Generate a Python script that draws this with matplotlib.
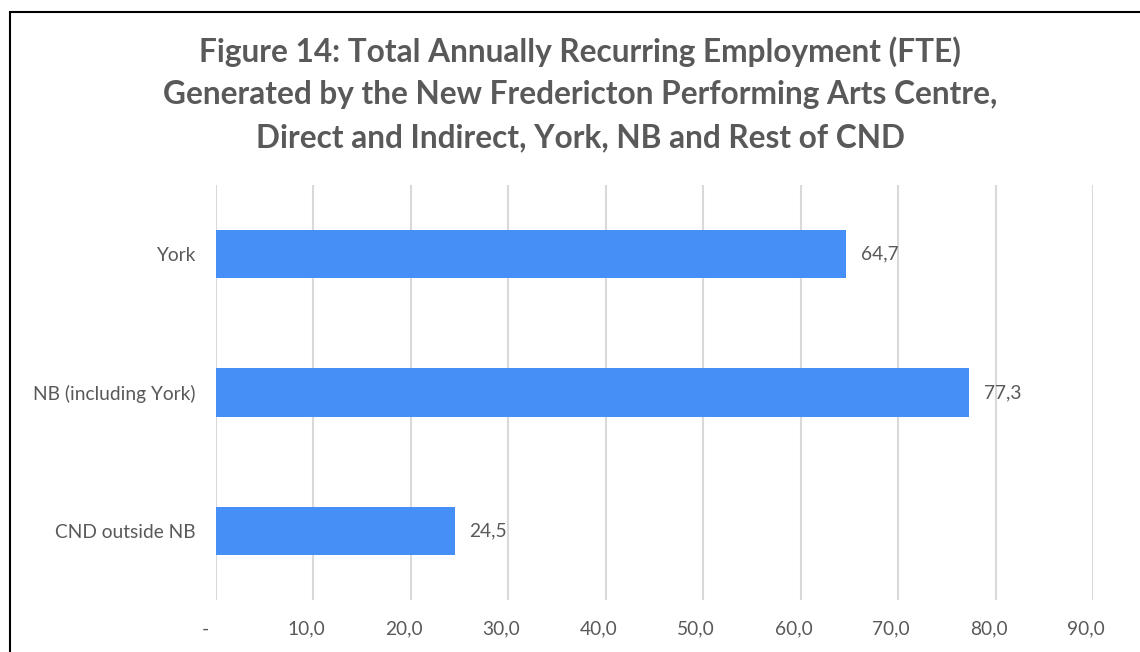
import matplotlib
matplotlib.use("Agg")
import matplotlib.pyplot as plt
from matplotlib.patches import Rectangle
from matplotlib.transforms import ScaledTranslation

categories = ["York", "NB (including York)", "CND outside NB"]
values = [64.7, 77.3, 24.5]
value_labels = ["64,7", "77,3", "24,5"]
xticks = [0, 10, 20, 30, 40, 50, 60, 70, 80, 90]
xtick_labels = ["-", "10,0", "20,0", "30,0", "40,0", "50,0", "60,0", "70,0", "80,0", "90,0"]
title = ("Figure 14: Total Annually Recurring Employment (FTE)\n"
         "Generated by the New Fredericton Performing Arts Centre,\n"
         "Direct and Indirect, York, NB and Rest of CND")

plt.rcParams['font.family'] = ['Lato', 'DejaVu Sans']
text_color = "#595959"
bar_color = "#458FF6"
grid_color = "#D9D9D9"

fig = plt.figure(figsize=(11.4, 6.52), dpi=100)
ax = fig.add_axes([216/1140, 1 - 600/652, (1093-216)/1140, (600-185)/652])

ypos = list(range(len(categories)))
ax.barh(ypos, values, height=0.35, color=bar_color, zorder=3)
ax.set_ylim(len(categories) - 0.5, -0.5)
ax.set_xlim(0, 90)
ax.set_yticks(ypos)
ax.set_yticklabels(categories, fontsize=13.8, color=text_color)
ax.set_xticks(xticks)
ax.set_xticklabels(xtick_labels, fontsize=13.8, color=text_color)
ax.tick_params(axis='both', length=0)
ax.tick_params(axis='y', pad=15)
ax.tick_params(axis='x', pad=15)
for s in ax.spines.values():
    s.set_visible(False)
ax.grid(axis='x', color=grid_color, linewidth=1.5, zorder=0)

# accounting-format labels sit slightly left of their gridlines
for k, lab in enumerate(ax.get_xticklabels()):
    dx = -11/100 if k == 0 else -7/100
    lab.set_transform(lab.get_transform() + ScaledTranslation(dx, 0, fig.dpi_scale_trans))

for i, (v, lab) in enumerate(zip(values, value_labels)):
    ax.text(v + 1.5, i, lab, va='center', ha='left', fontsize=13.8, color=text_color)

fig.text(580/1140, 1 - 94/652, title, ha='center', va='center', fontsize=22.8,
         fontweight='bold', color=text_color, linespacing=1.56)

fig.patches.append(Rectangle((10/1140, -0.1), 1.2, 0.1 + (652-12)/652, transform=fig.transFigure,
                             fill=False, edgecolor='black', linewidth=1.5))

fig.savefig("out.png", dpi=100)
